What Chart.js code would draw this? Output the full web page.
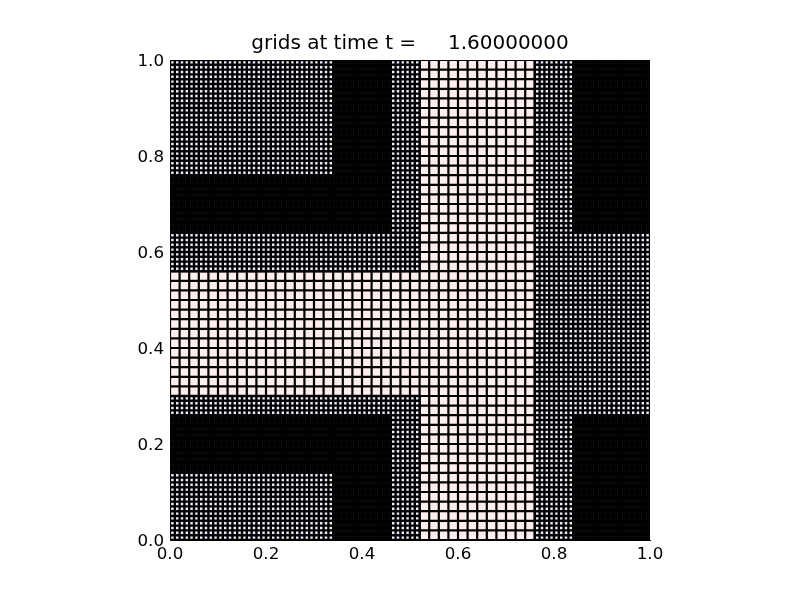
<!DOCTYPE html>
<html>
<head>
<meta charset="utf-8">
<script src="https://cdn.jsdelivr.net/npm/chart.js@4/dist/chart.umd.min.js"></script>
<style>
html,body{margin:0;padding:0;background:#fff;}
#wrap{width:800px;height:600px;}
</style>
</head>
<body>
<div id="wrap"><canvas id="c" width="800" height="600"></canvas></div>
<script>
// ---- data: AMR grid patches at t = 1.6 ----
const titleText = "grids at time t =     1.60000000";
const patchLevel = [1, 2, 2, 2, 2, 3, 3, 3, 3, 3, 3];
const patchXLo   = [0, 0, 0, 0.76, 0.76, 0.34, 0, 0.34, 0, 0.84, 0.84];
const patchXHi   = [1, 0.52, 0.52, 1, 1, 0.46, 0.34, 0.46, 0.34, 1, 1];
const patchYLo   = [0, 0.56, 0, 0, 0.5, 0.64, 0.64, 0, 0.14, 0.64, 0];
const patchYHi   = [1, 1, 0.30, 0.5, 1, 1, 0.76, 0.26, 0.26, 1, 0.26];
const levelDx    = [0.02, 0.01, 0.005];
const tickValues = [0, 0.2, 0.4, 0.6, 0.8, 1.0];

// ---- styles ----
const levelFill  = ['#ffeeee', '#eeeeff', '#eeffee'];
const levelLineW = [2.2, 2.4, 2.3];

const datasets = [];
for (let lev = 1; lev <= 3; lev++) {
  for (let p = 0; p < patchLevel.length; p++) {
    if (patchLevel[p] !== lev) continue;
    const x0 = patchXLo[p], x1 = patchXHi[p], y0 = patchYLo[p], y1 = patchYHi[p];
    const dx = levelDx[lev - 1];
    // patch fill
    datasets.push({
      data: [{x: x0, y: y1}, {x: x1, y: y1}],
      showLine: true, borderWidth: 0, pointRadius: 0,
      backgroundColor: levelFill[lev - 1],
      fill: {target: {value: y0}}
    });
    // cell edges: one dataset per grid line
    const nx = Math.round((x1 - x0) / dx), ny = Math.round((y1 - y0) / dx);
    for (let i = 0; i <= nx; i++) {
      const x = x0 + i * dx;
      datasets.push({
        data: [{x: x, y: y0}, {x: x, y: y1}], showLine: true, pointRadius: 0,
        borderColor: '#000', borderWidth: levelLineW[lev - 1], fill: false
      });
    }
    for (let j = 0; j <= ny; j++) {
      const y = y0 + j * dx;
      datasets.push({
        data: [{x: x0, y: y}, {x: x1, y: y}], showLine: true, pointRadius: 0,
        borderColor: '#000', borderWidth: levelLineW[lev - 1], fill: false
      });
    }
  }
}
const N = datasets.length;
datasets.forEach((d, i) => { d.order = N - i; });

const tickFont = {family: 'DejaVu Sans', size: 16.7};
new Chart(document.getElementById('c'), {
  type: 'scatter',
  data: {datasets: datasets},
  options: {
    responsive: false, animation: false, events: [],
    layout: {padding: {left: 0, right: 150, top: 0, bottom: 0}},
    elements: {line: {tension: 0}},
    plugins: {
      legend: {display: false}, tooltip: {enabled: false},
      title: {
        display: true, text: titleText, fullSize: false,
        color: '#000', font: {family: 'DejaVu Sans', size: 20, weight: 'normal'},
        padding: {top: 32, bottom: 4}
      }
    },
    scales: {
      x: {
        type: 'linear', min: 0, max: 1,
        afterFit: s => { s.height = 60; },
        afterBuildTicks: s => { s.ticks = tickValues.map(v => ({value: v})); },
        ticks: {color: '#000', font: tickFont, padding: 5, maxRotation: 0,
                callback: v => Number(v).toFixed(1)},
        grid: {display: false, drawTicks: false},
        border: {display: true, color: '#000', width: 1}
      },
      y: {
        type: 'linear', min: 0, max: 1,
        afterFit: s => { s.width = 170; },
        afterBuildTicks: s => { s.ticks = tickValues.map(v => ({value: v})); },
        ticks: {color: '#000', font: tickFont, padding: 6, labelOffset: 2,
                callback: v => Number(v).toFixed(1)},
        grid: {display: false, drawTicks: false},
        border: {display: true, color: '#000', width: 1}
      }
    }
  }
});
</script>
</body>
</html>
